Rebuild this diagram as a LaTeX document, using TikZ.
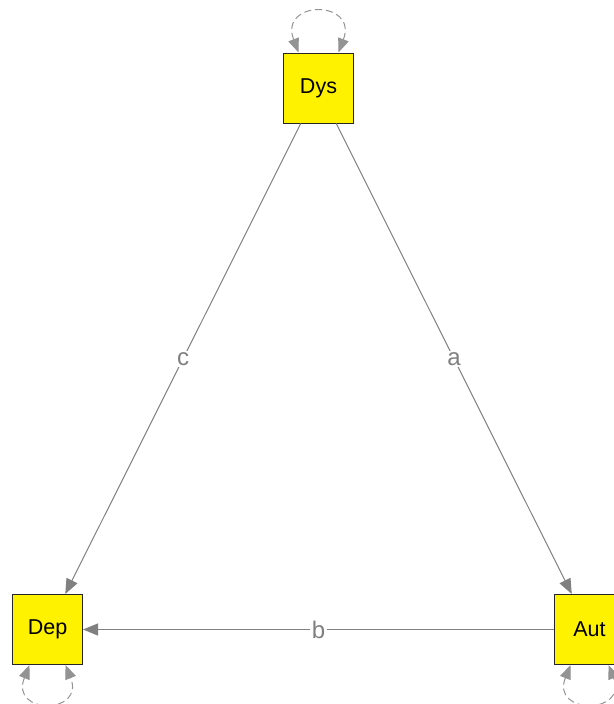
\documentclass[tikz,border=0pt]{standalone}
\usepackage{fontspec}
\setmainfont{Liberation Sans}
\usetikzlibrary{arrows.meta}
\begin{document}
\begin{tikzpicture}[x=1pt,y=-1pt,
  varbox/.style={draw=black!85, fill=yellow, line width=1pt, minimum size=70pt, inner sep=0pt, font=\fontsize{21.5}{24}\selectfont},
  edge/.style={draw=gray, line width=1pt, -{Triangle[length=15pt,width=12pt]}},
  elabel/.style={fill=white, text=gray, inner sep=1.5pt, font=\fontsize{24}{26}\selectfont},
  selfloop/.style={draw=gray!85, dash pattern=on 7pt off 4pt, line width=1pt, {Triangle[length=14pt,width=11pt]}-{Triangle[length=14pt,width=11pt]}}]
\useasboundingbox[fill=white] (0,0) rectangle (613,704);
\node[varbox] (dys) at (318.5,88) {Dys};
\node[varbox] (dep) at (47.5,629.5) {Dep};
\node[varbox] (aut) at (589.5,629.5) {Aut};
\draw[edge] (dys) -- node[elabel] {a} (aut);
\draw[edge] (dys) -- node[elabel] {c} (dep);
\draw[edge] (aut) -- node[elabel] {b} (dep);
\draw[selfloop] ([xshift=-20pt]dys.north) .. controls +(-20,-53) and +(20,-53) .. ([xshift=20pt]dys.north);
\draw[selfloop] ([xshift=-18pt]dep.south) .. controls +(-20,50) and +(20,50) .. ([xshift=18pt]dep.south);
\draw[selfloop] ([xshift=-19pt]aut.south) .. controls +(-20,50) and +(20,50) .. ([xshift=19pt]aut.south);
\end{tikzpicture}
\end{document}
